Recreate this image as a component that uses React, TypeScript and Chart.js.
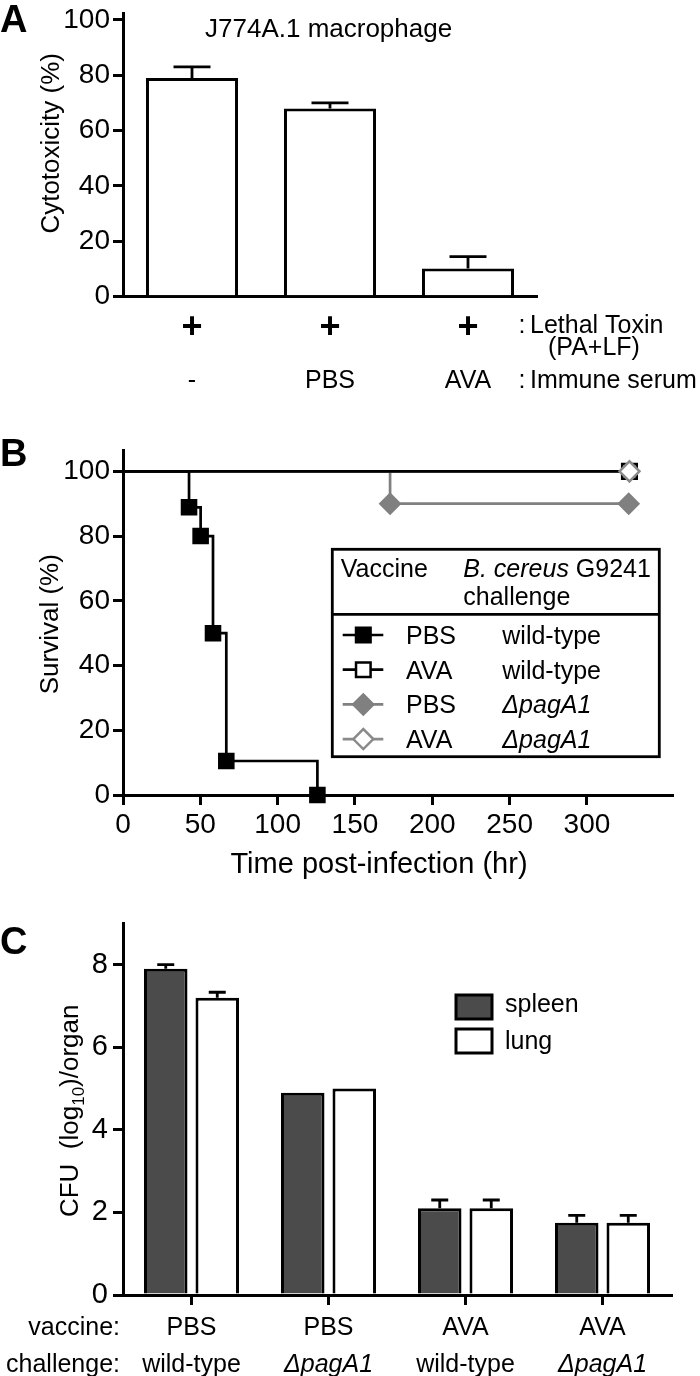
import React, { useEffect, useRef } from 'react';
import { Chart, registerables } from 'chart.js';

Chart.register(...registerables);

const FAMILY = "'Liberation Sans', Arial, Helvetica, sans-serif";
const fnt = (size: number, style = '') => `${style} ${size}px ${FAMILY}`.trim();
const GRAY = '#808080';
const GRAY_OPEN = '#8a8a8a';
const DARK = '#4b4b4b';
const AXIS_W = 3;

// ---------- Panel A : cytotoxicity ----------
const aToxin = ['+', '+', '+'];
const aSerum = ['-', 'PBS', 'AVA'];
const aCytotoxicity = [79, 68, 10.2];
const aSem = [4, 2, 4.3];

// ---------- Panel B : survival ----------
const bPbsWtTime = [0, 42.7, 50.2, 58.2, 66.8, 125.7];
const bPbsWtSurvival = [100, 88.9, 80, 50, 10.5, 0];
const bAvaWtTime = [0, 327.5];
const bAvaWtSurvival = [100, 100];
const bPbsDeltaTime = [0, 172.7, 327];
const bPbsDeltaSurvival = [100, 90, 90];
const bAvaDeltaTime = [0, 327.5];
const bAvaDeltaSurvival = [100, 100];
const bLegendVaccine = ['PBS', 'AVA', 'PBS', 'AVA'];
const bLegendChallenge = ['wild-type', 'wild-type', 'ΔpagA1', 'ΔpagA1'];

// ---------- Panel C : CFU ----------
const cVaccine = ['PBS', 'PBS', 'AVA', 'AVA'];
const cChallenge = ['wild-type', 'ΔpagA1', 'wild-type', 'ΔpagA1'];
const cSpleen = [7.9, 4.9, 2.1, 1.75];
const cSpleenSem = [0.1, 0, 0.2, 0.18];
const cLung = [7.2, 5.0, 2.1, 1.75];
const cLungSem = [0.13, 0, 0.2, 0.18];

type Seg = { t: string; f: string; dy?: number };

function drawSegs(ctx: CanvasRenderingContext2D, segs: Seg[], x: number, y: number, align: 'left' | 'center' | 'right', rot = 0) {
  ctx.save();
  ctx.translate(x, y);
  if (rot) ctx.rotate(rot);
  ctx.textBaseline = 'alphabetic';
  ctx.textAlign = 'left';
  ctx.fillStyle = '#000';
  let total = 0;
  const widths = segs.map((s) => {
    ctx.font = s.f;
    const w = ctx.measureText(s.t).width;
    total += w;
    return w;
  });
  let cx = align === 'left' ? 0 : align === 'center' ? -total / 2 : -total;
  segs.forEach((s, i) => {
    ctx.font = s.f;
    ctx.fillText(s.t, cx, s.dy || 0);
    cx += widths[i];
  });
  ctx.restore();
}

function labelSegs(text: string, size: number): Seg[] {
  if (text.startsWith('Δ')) return [{ t: text, f: fnt(size, 'italic') }];
  return [{ t: text, f: fnt(size) }];
}

function marker(ctx: CanvasRenderingContext2D, kind: string, x: number, y: number, r: number, fill: string, stroke: string, lw: number) {
  ctx.beginPath();
  if (kind === 'rect') {
    const s = Math.SQRT1_2 * r;
    ctx.rect(x - s, y - s, 2 * s, 2 * s);
  } else {
    ctx.moveTo(x - r, y);
    ctx.lineTo(x, y - r);
    ctx.lineTo(x + r, y);
    ctx.lineTo(x, y + r);
    ctx.closePath();
  }
  ctx.fillStyle = fill;
  ctx.fill();
  ctx.lineWidth = lw;
  ctx.strokeStyle = stroke;
  ctx.stroke();
}

const zeroPad = (s: any) => {
  s.paddingTop = 0;
  s.paddingBottom = 0;
  s.paddingLeft = 0;
  s.paddingRight = 0;
};

const yAxis = (min: number, max: number, step: number, size: number, pad: number) => ({
  type: 'linear',
  min,
  max,
  afterFit: (s: any) => {
    s.width = 123;
    zeroPad(s);
  },
  ticks: { stepSize: step, includeBounds: false, color: '#000', padding: pad, font: { family: FAMILY, size } },
  grid: { drawOnChartArea: false, drawTicks: true, tickLength: 10, color: '#000', lineWidth: AXIS_W },
  border: { display: true, color: '#000', width: AXIS_W },
});

const baseOptions = (padding: any) => ({
  responsive: false,
  animation: false,
  events: [],
  layout: { padding },
  plugins: { legend: { display: false }, tooltip: { enabled: false }, title: { display: false } },
});

const errorBars = (sems: number[][], capW: number) => ({
  id: 'errorBars',
  afterDatasetsDraw(chart: any) {
    const ctx = chart.ctx;
    const y = chart.scales.y;
    chart.data.datasets.forEach((ds: any, di: number) => {
      const meta = chart.getDatasetMeta(di);
      meta.data.forEach((el: any, i: number) => {
        const e = sems[di][i];
        if (!e) return;
        const v = ds.data[i];
        const top = y.getPixelForValue(v + e);
        const base = y.getPixelForValue(v);
        ctx.save();
        ctx.strokeStyle = '#000';
        ctx.lineWidth = 2.8;
        ctx.beginPath();
        ctx.moveTo(el.x, base);
        ctx.lineTo(el.x, top);
        ctx.moveTo(el.x - capW / 2, top);
        ctx.lineTo(el.x + capW / 2, top);
        ctx.stroke();
        ctx.restore();
      });
    });
  },
});

function makeA(canvas: HTMLCanvasElement) {
  const textPlugin = {
    id: 'textA',
    afterDraw(chart: any) {
      const ctx = chart.ctx;
      const xs = chart.scales.x;
      drawSegs(ctx, [{ t: 'A', f: fnt(38, 'bold') }], 0, 32, 'left');
      drawSegs(ctx, [{ t: 'J774A.1 macrophage', f: fnt(26) }], 205, 37, 'left');
      drawSegs(ctx, [{ t: 'Cytotoxicity (%)', f: fnt(26) }], 59, 143.3, 'center', -Math.PI / 2);
      aToxin.forEach((t, i) => {
        const x = xs.getPixelForValue(i);
        drawSegs(ctx, [{ t, f: fnt(36, 'bold') }], x, 338.4, 'center');
        drawSegs(ctx, [{ t: aSerum[i], f: fnt(25) }], x, 388, 'center');
      });
      drawSegs(ctx, [{ t: ':', f: fnt(25) }], 518.5, 333, 'left');
      drawSegs(ctx, [{ t: 'Lethal Toxin', f: fnt(25) }], 530, 333, 'left');
      drawSegs(ctx, [{ t: '(PA+LF)', f: fnt(25) }], 548, 355, 'left');
      drawSegs(ctx, [{ t: ':', f: fnt(25) }], 518.5, 388, 'left');
      drawSegs(ctx, [{ t: 'Immune serum', f: fnt(25) }], 530, 388, 'left');
    },
  };
  return new Chart(canvas, {
    type: 'bar',
    data: {
      labels: aSerum,
      datasets: [
        {
          label: 'Cytotoxicity',
          data: aCytotoxicity,
          backgroundColor: '#fff',
          borderColor: '#000',
          borderWidth: 3,
          categoryPercentage: 1,
          barPercentage: 0.667,
        },
      ],
    },
    options: {
      ...baseOptions({ left: 0, top: 13, right: 163, bottom: 410 - 296.7 - 40 }),
      scales: {
        x: {
          type: 'category',
          offset: true,
          afterFit: (s: any) => {
            s.height = 40;
            zeroPad(s);
          },
          ticks: { display: false },
          grid: { display: false },
          border: { display: true, color: '#000', width: AXIS_W },
        },
        y: yAxis(0, 102.5, 20, 28, 3),
      },
    } as any,
    plugins: [errorBars([aSem], 37), textPlugin],
  } as any);
}

const pts = (xs: number[], ys: number[]) => xs.map((x, i) => ({ x, y: ys[i] }));
const radii = (xs: number[], r: number) => xs.map((_, i) => (i === 0 ? 0 : r));

function makeB(canvas: HTMLCanvasElement) {
  const O = 410;
  const legendRows = [
    { line: '#000', kind: 'rect', fill: '#000', stroke: '#000', r: 10.3 },
    { line: '#000', kind: 'rect', fill: '#fff', stroke: '#000', r: 10.3 },
    { line: GRAY, kind: 'diamond', fill: GRAY, stroke: GRAY, r: 10 },
    { line: GRAY_OPEN, kind: 'diamond', fill: '#fff', stroke: GRAY_OPEN, r: 10 },
  ];
  const rowCenters = [635, 669.7, 704.4, 739.1];
  const textPlugin = {
    id: 'textB',
    afterDraw(chart: any) {
      const ctx = chart.ctx;
      drawSegs(ctx, [{ t: 'B', f: fnt(38, 'bold') }], 0, 466 - O, 'left');
      drawSegs(ctx, [{ t: 'Survival (%)', f: fnt(26) }], 58, 624.2 - O, 'center', -Math.PI / 2);
      drawSegs(ctx, [{ t: 'Time post-infection (hr)', f: fnt(29) }], 379, 873 - O, 'center');
      // legend box
      ctx.save();
      ctx.fillStyle = '#fff';
      ctx.fillRect(332.3, 549.3 - O, 327, 207.4);
      ctx.lineWidth = 2.8;
      ctx.strokeStyle = '#000';
      ctx.strokeRect(332.3, 549.3 - O, 327, 207.4);
      ctx.beginPath();
      ctx.moveTo(332.3, 614.3 - O);
      ctx.lineTo(659.3, 614.3 - O);
      ctx.stroke();
      ctx.restore();
      drawSegs(ctx, [{ t: 'Vaccine', f: fnt(25) }], 340.7, 576.7 - O, 'left');
      drawSegs(ctx, [{ t: 'B. cereus', f: fnt(25, 'italic') }, { t: ' G9241', f: fnt(25) }], 463.3, 576.7 - O, 'left');
      drawSegs(ctx, [{ t: 'challenge', f: fnt(25) }], 463.3, 605 - O, 'left');
      legendRows.forEach((row, i) => {
        const cy = rowCenters[i] - O;
        ctx.save();
        ctx.strokeStyle = row.line;
        ctx.lineWidth = 2.7;
        ctx.beginPath();
        ctx.moveTo(342.7, cy);
        ctx.lineTo(383.3, cy);
        ctx.stroke();
        marker(ctx, row.kind, 363.3, cy, row.r, row.fill, row.stroke, 2.5);
        ctx.restore();
        drawSegs(ctx, [{ t: bLegendVaccine[i], f: fnt(25) }], 406, cy + 9, 'left');
        drawSegs(ctx, labelSegs(bLegendChallenge[i], 25), 502.3, cy + 9, 'left');
      });
    },
  };
  const common = { fill: false, tension: 0, clip: false, pointHitRadius: 0, borderCapStyle: 'butt' };
  return new Chart(canvas, {
    type: 'line',
    data: {
      datasets: [
        {
          ...common,
          label: 'AVA ΔpagA1 markers',
          data: pts(bAvaDeltaTime, bAvaDeltaSurvival),
          showLine: false,
          pointStyle: 'rectRot',
          pointRadius: radii(bAvaDeltaTime, 10),
          pointBackgroundColor: '#fff',
          pointBorderColor: GRAY_OPEN,
          pointBorderWidth: 2.5,
        },
        {
          ...common,
          label: 'PBS wild-type',
          data: pts(bPbsWtTime, bPbsWtSurvival),
          stepped: true,
          borderColor: '#000',
          borderWidth: 2.7,
          pointStyle: 'rect',
          pointRadius: radii(bPbsWtTime, 10.3),
          pointBackgroundColor: '#000',
          pointBorderColor: '#000',
          pointBorderWidth: 2,
        },
        {
          ...common,
          label: 'AVA wild-type',
          data: pts(bAvaWtTime, bAvaWtSurvival),
          stepped: true,
          borderColor: '#000',
          borderWidth: 2.7,
          pointStyle: 'rect',
          pointRadius: radii(bAvaWtTime, 10.3),
          pointBackgroundColor: '#fff',
          pointBorderColor: '#000',
          pointBorderWidth: 2.5,
        },
        {
          ...common,
          label: 'PBS ΔpagA1',
          data: pts(bPbsDeltaTime, bPbsDeltaSurvival),
          stepped: true,
          borderColor: GRAY,
          borderWidth: 2.7,
          pointStyle: 'rectRot',
          pointRadius: radii(bPbsDeltaTime, 10),
          pointBackgroundColor: GRAY,
          pointBorderColor: GRAY,
          pointBorderWidth: 2,
        },
        {
          ...common,
          label: 'AVA ΔpagA1',
          data: pts(bAvaDeltaTime, bAvaDeltaSurvival),
          stepped: true,
          borderColor: GRAY_OPEN,
          borderWidth: 2.7,
          pointRadius: 0,
        },
      ],
    },
    options: {
      ...baseOptions({ left: 0, top: 40, right: 28, bottom: 490 - 385 - 40 }),
      scales: {
        x: {
          type: 'linear',
          min: 0,
          max: 355,
          afterBuildTicks: (s: any) => {
            s.ticks = s.ticks.filter((t: any) => t.value <= 300);
          },
          afterFit: (s: any) => {
            s.height = 40;
            zeroPad(s);
          },
          ticks: {
            stepSize: 50,
            includeBounds: false,
            autoSkip: false,
            maxRotation: 0,
            color: '#000',
            padding: 3,
            font: { family: FAMILY, size: 28 },
          },
          grid: { drawOnChartArea: false, drawTicks: true, tickLength: 10, color: '#000', lineWidth: AXIS_W },
          border: { display: true, color: '#000', width: AXIS_W },
        },
        y: yAxis(0, 106.6, 20, 28, 3),
      },
    } as any,
    plugins: [textPlugin],
  } as any);
}

function makeC(canvas: HTMLCanvasElement) {
  const O = 900;
  const textPlugin = {
    id: 'textC',
    afterDraw(chart: any) {
      const ctx = chart.ctx;
      const xs = chart.scales.x;
      drawSegs(ctx, [{ t: 'C', f: fnt(38, 'bold') }], 0, 954 - O, 'left');
      drawSegs(
        ctx,
        [
          { t: 'CFU  (log', f: fnt(26) },
          { t: '10', f: fnt(17), dy: 6 },
          { t: ')/organ', f: fnt(26) },
        ],
        78,
        1110.8 - O,
        'center',
        -Math.PI / 2
      );
      // legend
      ctx.save();
      ctx.lineWidth = 3;
      ctx.strokeStyle = '#000';
      ctx.fillStyle = DARK;
      ctx.fillRect(456, 995 - O, 36, 24);
      ctx.strokeRect(456, 995 - O, 36, 24);
      ctx.fillStyle = '#fff';
      ctx.fillRect(456, 1029 - O, 36, 24);
      ctx.strokeRect(456, 1029 - O, 36, 24);
      ctx.restore();
      drawSegs(ctx, [{ t: 'spleen', f: fnt(25) }], 505, 1011.7 - O, 'left');
      drawSegs(ctx, [{ t: 'lung', f: fnt(25) }], 505, 1049.3 - O, 'left');
      // category labels
      drawSegs(ctx, [{ t: 'vaccine:', f: fnt(25) }], 120, 1335 - O, 'right');
      drawSegs(ctx, [{ t: 'challenge:', f: fnt(25) }], 120, 1372 - O, 'right');
      cVaccine.forEach((v, i) => {
        const x = xs.getPixelForValue(i);
        drawSegs(ctx, [{ t: v, f: fnt(25) }], x, 1335 - O, 'center');
        drawSegs(ctx, labelSegs(cChallenge[i], 25), x, 1372 - O, 'center');
      });
    },
  };
  return new Chart(canvas, {
    type: 'bar',
    data: {
      labels: cVaccine,
      datasets: [
        {
          label: 'spleen',
          data: cSpleen,
          backgroundColor: DARK,
          borderColor: '#000',
          borderWidth: 3,
          categoryPercentage: 0.752,
          barPercentage: 0.845,
        },
        {
          label: 'lung',
          data: cLung,
          backgroundColor: '#fff',
          borderColor: '#000',
          borderWidth: 3,
          categoryPercentage: 0.752,
          barPercentage: 0.845,
        },
      ],
    },
    options: {
      ...baseOptions({ left: 0, top: 23.3, right: 29, bottom: 476 - 395 - 40 }),
      scales: {
        x: {
          type: 'category',
          offset: true,
          afterFit: (s: any) => {
            s.height = 40;
            zeroPad(s);
          },
          ticks: { display: false },
          grid: { offset: false, drawOnChartArea: false, drawTicks: true, tickLength: 10, color: '#000', lineWidth: AXIS_W },
          border: { display: true, color: '#000', width: AXIS_W },
        },
        y: yAxis(0, 9, 2, 29, 5),
      },
    } as any,
    plugins: [errorBars([cSpleenSem, cLungSem], 17), textPlugin],
  } as any);
}

export default function App() {
  const aRef = useRef<HTMLCanvasElement>(null);
  const bRef = useRef<HTMLCanvasElement>(null);
  const cRef = useRef<HTMLCanvasElement>(null);

  useEffect(() => {
    document.body.style.margin = '0';
    const charts = [makeA(aRef.current!), makeB(bRef.current!), makeC(cRef.current!)];
    return () => charts.forEach((c) => c.destroy());
  }, []);

  return (
    <div style={{ width: 700, height: 1376, background: '#fff', overflow: 'hidden' }}>
      <canvas ref={aRef} width={700} height={410} style={{ display: 'block' }} />
      <canvas ref={bRef} width={700} height={490} style={{ display: 'block' }} />
      <canvas ref={cRef} width={700} height={476} style={{ display: 'block' }} />
    </div>
  );
}
